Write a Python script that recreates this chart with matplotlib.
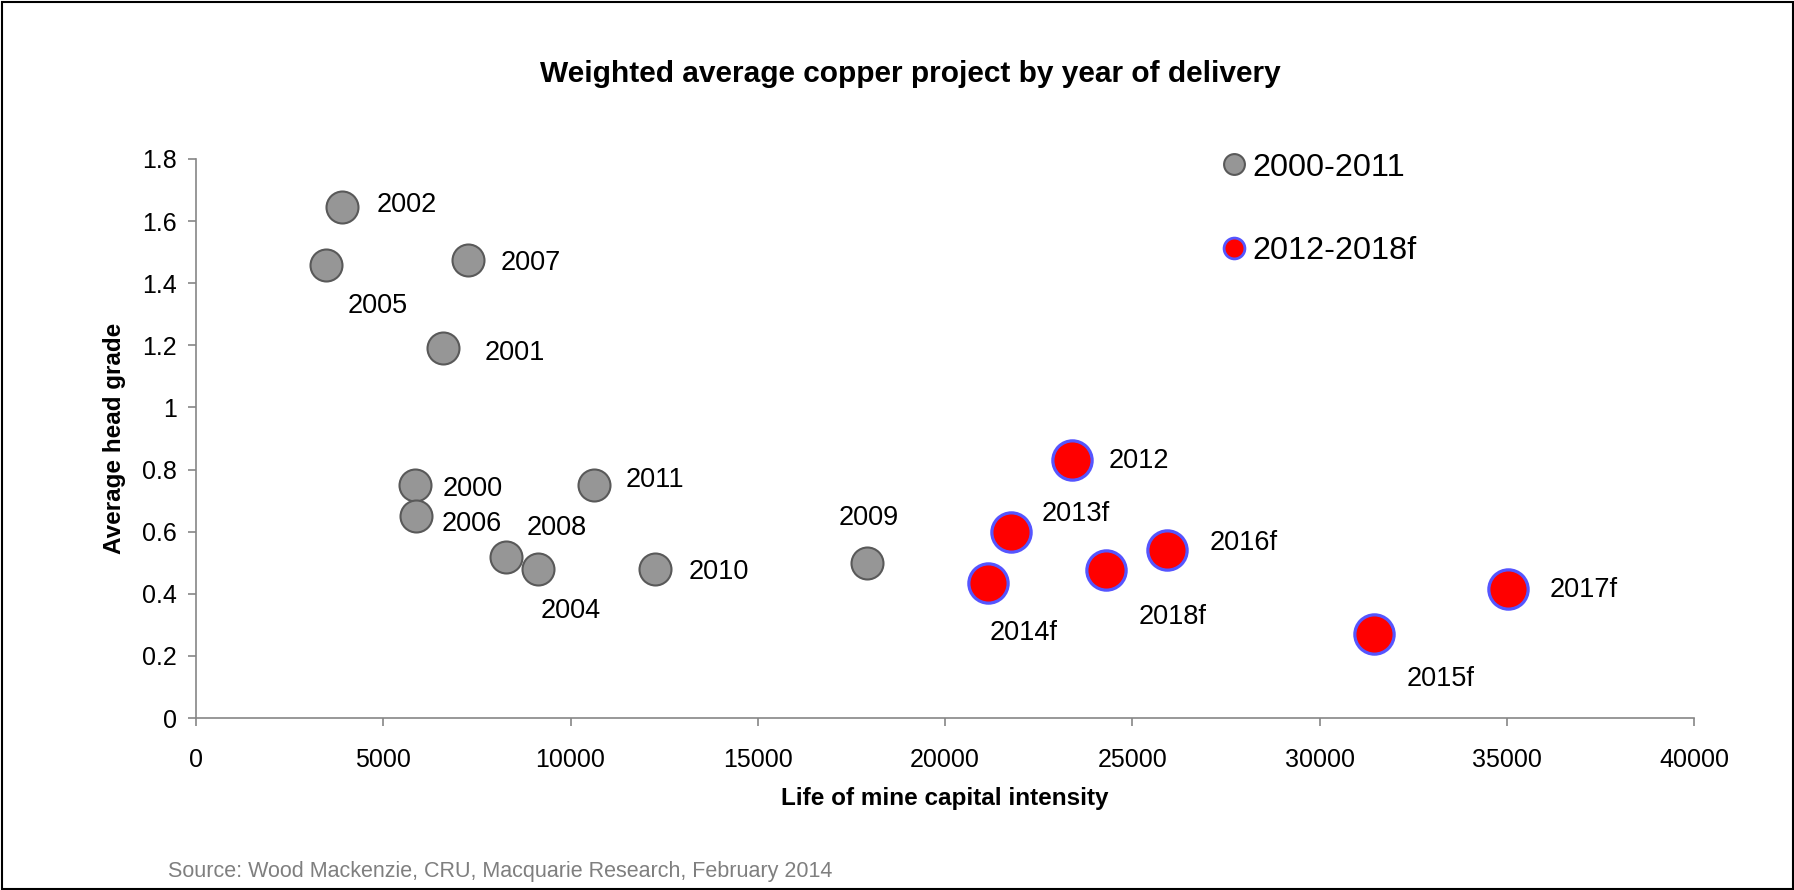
import matplotlib
matplotlib.use('Agg')
import matplotlib.pyplot as plt
from matplotlib.lines import Line2D
from matplotlib.patches import Rectangle
from matplotlib.ticker import FuncFormatter

plt.rcParams['font.family'] = ['Liberation Sans', 'DejaVu Sans']

# 2000-2011 projects
years_old = ['2000', '2001', '2002', '2004', '2005', '2006', '2007', '2008', '2009', '2010', '2011']
x_old = [5850, 6590, 3910, 9130, 3460, 5880, 7270, 8280, 17930, 12260, 10640]
y_old = [0.75, 1.19, 1.645, 0.48, 1.46, 0.65, 1.475, 0.52, 0.50, 0.48, 0.75]

# 2012-2018f projects
years_new = ['2012', '2013f', '2014f', '2015f', '2016f', '2017f', '2018f']
x_new = [23390, 21750, 21140, 31450, 25930, 35040, 24290]
y_new = [0.83, 0.60, 0.435, 0.27, 0.54, 0.415, 0.478]

# label offsets from the marker, in pixels (dx, dy up)
label_off = {
    '2000': (28, -1), '2001': (42, -2), '2002': (34, 5), '2004': (3, -39),
    '2005': (22, -38), '2006': (25, -5), '2007': (32, 0), '2008': (21, 32),
    '2009': (-29, 48), '2010': (33, 0), '2011': (31, 8),
    '2012': (37, 2), '2013f': (31, 21), '2014f': (2, -47), '2015f': (33, -42),
    '2016f': (43, 10), '2017f': (41, 2), '2018f': (33, -44),
}

W, H = 1794, 890
fig = plt.figure(figsize=(W / 100, H / 100), dpi=100)
ax = fig.add_axes([196 / W, 1 - 718 / H, (1694 - 196) / W, (718 - 159) / H])

ax.scatter(x_old, y_old, s=530, c='#969696', edgecolors='#595959', linewidths=1.5, zorder=3)
ax.scatter(x_new, y_new, s=800, c='#ff0000', edgecolors='#5555ff', linewidths=2.3, zorder=3)

for lab, x, y in zip(years_old + years_new, x_old + x_new, y_old + y_new):
    dx, dy = label_off[lab]
    ax.annotate(lab, (x, y), xytext=(dx, dy), textcoords='offset pixels',
                ha='left', va='center_baseline', fontsize=19.5)

ax.set_xlim(0, 40000)
ax.set_ylim(0, 1.8)
ax.set_xticks(range(0, 40001, 5000))
ax.set_yticks([i * 0.2 for i in range(10)])
ax.yaxis.set_major_formatter(FuncFormatter(lambda v, p: '%g' % round(v, 1)))

for s in ['top', 'right']:
    ax.spines[s].set_visible(False)
for s in ['left', 'bottom']:
    ax.spines[s].set_color('#868686')
    ax.spines[s].set_linewidth(1.2)
ax.tick_params(axis='both', direction='out', length=6, width=1.2, color='#868686',
               labelsize=18, labelcolor='black')
ax.tick_params(axis='y', pad=8)
ax.tick_params(axis='x', pad=15.5)

ax.set_xlabel('Life of mine capital intensity', fontsize=17.5, fontweight='bold', labelpad=11)
ax.set_ylabel('Average head grade', fontsize=17.5, fontweight='bold', labelpad=11)

fig.text(910 / W, 1 - 73.5 / H, 'Weighted average copper project by year of delivery',
         ha='center', va='center', fontsize=21.5, fontweight='bold')

handles = [
    Line2D([], [], ls='none', marker='o', markersize=15, markerfacecolor='#969696',
           markeredgecolor='#595959', markeredgewidth=1.5),
    Line2D([], [], ls='none', marker='o', markersize=15, markerfacecolor='#ff0000',
           markeredgecolor='#5555ff', markeredgewidth=2),
]
fig.legend(handles, ['2000-2011', '2012-2018f'], loc='center left',
           bbox_to_anchor=(1222 / W, 1 - 209.5 / H), frameon=False, fontsize=23.3,
           handlelength=0.75, handletextpad=0.2, labelspacing=1.66, borderpad=0,
           borderaxespad=0)

fig.text(168 / W, 1 - 872 / H, 'Source: Wood Mackenzie, CRU, Macquarie Research, February 2014',
         ha='left', va='center', fontsize=15.5, color='#7f7f7f')

fig.patches.append(Rectangle((1.5 / W, 1.5 / H), (W - 3) / W, (H - 3) / H,
                             transform=fig.transFigure, fill=False, ec='black', lw=1.5))

fig.savefig('out.png', dpi=100)
